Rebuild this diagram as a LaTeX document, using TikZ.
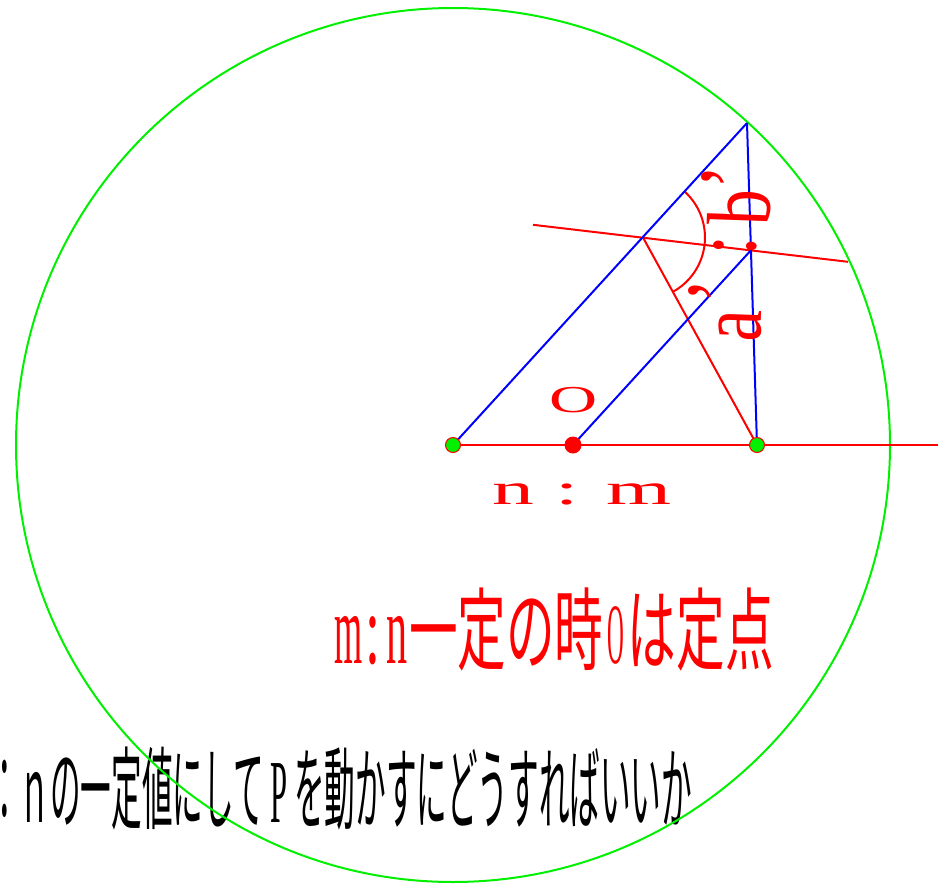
\documentclass[tikz,border=0pt]{standalone}
\usepackage{fontspec}
\usepackage{graphicx}
\newfontfamily\jpfont{Noto Sans CJK JP}
\newfontfamily\serfont{Liberation Serif}
\definecolor{geogreen}{RGB}{0,240,0}
\definecolor{geored}{RGB}{255,0,0}
\definecolor{geoblue}{RGB}{0,0,255}
\begin{document}
\begin{tikzpicture}[x=1pt,y=-1pt,
  redline/.style={draw=geored,line width=2pt},
  blueline/.style={draw=geoblue,line width=2pt},
  greendot/.style={circle,fill=geogreen,draw=geored,line width=1pt,minimum size=15pt,inner sep=0pt},
  reddot/.style={circle,fill=geored,minimum size=17pt,inner sep=0pt},
  rotlabel/.style={text=geored,inner sep=0pt,rotate=88}]
\useasboundingbox (0,0) rectangle (938,884);
% points
\coordinate (A) at (453,445);
\coordinate (O) at (573,445);
\coordinate (B) at (757,445);
\coordinate (P) at (747,123);
\coordinate (Q) at (751,250.2);
\coordinate (R) at (643,237.5);
\coordinate (E) at (938,445);
\coordinate (L1) at (533,224.8);
\coordinate (L2) at (848,261.8);
% texts
\node[anchor=base west,inner sep=0pt,text=geored] (t1) at (336,663)
  {\scalebox{0.54}[1]{\fontsize{90}{90}\selectfont\jpfont
   \makebox[0.5em]{\scalebox{0.67}[1]{\fontsize{100}{100}\selectfont\serfont m}}%
   \makebox[0.5em]{\fontsize{100}{100}\selectfont\serfont :}%
   \makebox[0.5em]{\scalebox{0.78}[1]{\fontsize{100}{100}\selectfont\serfont n}}%
   一定の時\makebox[0.5em]{\scalebox{0.5}[1]{\fontsize{86}{86}\selectfont\serfont O}}は定点}};
\node[anchor=base west,inner sep=0pt,text=black] (t2) at (-11,822)
  {\scalebox{0.34}[1]{\fontsize{90}{90}\selectfont\jpfont ：ｎの一定値にして\makebox[1em]{\serfont P}を動かすにどうすればいいか}};
% circle
\draw[draw=geogreen,line width=2pt] (A) circle[radius=437];
% lines
\draw[redline] (A) -- (E);
\draw[redline] (L1) -- (L2);
\draw[redline] (R) -- (B);
\draw[redline] (R) ++(-47.6:62) arc[start angle=-47.6,end angle=61.2,radius=62];
\draw[blueline] (A) -- (P);
\draw[blueline] (P) -- (B);
\draw[blueline] (O) -- (Q);
% dots
\node[greendot] (Ad) at (A) {};
\node[greendot] (Bd) at (B) {};
\node[reddot] (Od) at (O) {};
% labels
\node[text=geored,inner sep=0pt] (lO) at (574,400.5)
  {\scalebox{1.75}[1]{\fontsize{38}{38}\selectfont\serfont O}};
\node[text=geored,inner sep=0pt] (lnm) at (582,494)
  {\scalebox{1.9}[1]{\fontsize{44}{44}\selectfont\serfont n : m}};
\node[rotlabel] (lb) at (739,207) {\scalebox{0.8}[1]{\fontsize{90}{90}\selectfont\serfont b}};
\node[rotlabel] (lc) at (735.5,246) {\scalebox{0.8}[1]{\fontsize{90}{90}\selectfont\serfont :}};
\node[rotlabel] (la) at (740,326) {\scalebox{0.8}[1]{\fontsize{90}{90}\selectfont\serfont a}};
\node[rotlabel] (k1) at (713,177) {\scalebox{0.8}[1]{\fontsize{90}{90}\selectfont\serfont ,}};
\node[rotlabel] (k2) at (700,291) {\scalebox{0.8}[1]{\fontsize{90}{90}\selectfont\serfont ,}};
\end{tikzpicture}
\end{document}
